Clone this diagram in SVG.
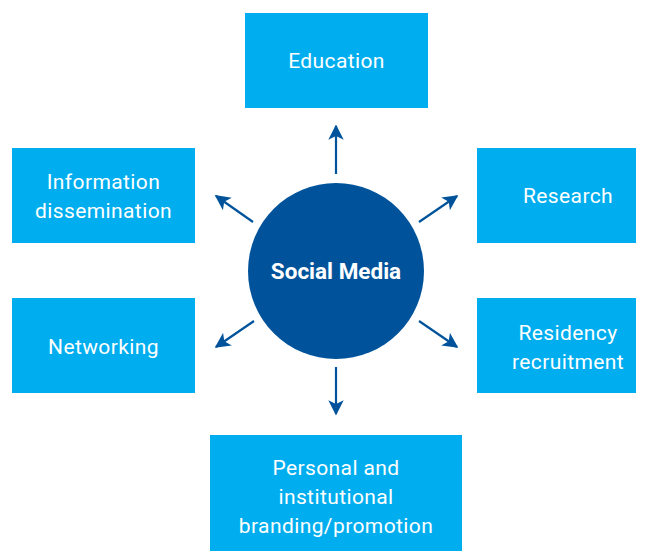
<svg xmlns="http://www.w3.org/2000/svg" width="648" height="552" viewBox="0 0 648 552">
  <style>
    .box { fill: #00AEEF; }
    .lbl { font-family: Roboto, "Liberation Sans", sans-serif; font-size: 21px; fill: #FFFFFF; text-anchor: middle; letter-spacing: 0.4px; }
    .hub { fill: #00539B; }
    .hubtxt { font-family: Roboto, "Liberation Sans", sans-serif; font-size: 22.5px; font-weight: bold; fill: #FFFFFF; text-anchor: middle; }
    .arrow { stroke: #00539B; stroke-width: 2.2; fill: none; marker-end: url(#head); }
  </style>
  <defs>
    <marker id="head" viewBox="0 0 10 10" refX="9" refY="5" markerWidth="7" markerHeight="7" orient="auto" markerUnits="strokeWidth">
      <path d="M0,0 L10,5 L0,10 L2.5,5 Z" fill="#00539B"/>
    </marker>
  </defs>
  <rect width="648" height="552" fill="#FFFFFF"/>

  <g id="connectors">
    <line class="arrow" x1="336" y1="174" x2="336" y2="126"/>
    <line class="arrow" x1="336" y1="367" x2="336" y2="414"/>
    <line class="arrow" x1="253" y1="222" x2="216" y2="196"/>
    <line class="arrow" x1="419" y1="222" x2="457" y2="196"/>
    <line class="arrow" x1="254" y1="321" x2="216" y2="347"/>
    <line class="arrow" x1="419" y1="321" x2="457" y2="347"/>
  </g>

  <g id="social-media">
    <circle class="hub" cx="336" cy="271" r="88"/>
    <text class="hubtxt" x="336" y="279">Social Media</text>
  </g>

  <g id="education">
    <rect class="box" x="245" y="13" width="183" height="95"/>
    <text class="lbl" x="336.5" y="68">Education</text>
  </g>

  <g id="information-dissemination">
    <rect class="box" x="12" y="148" width="183" height="95"/>
    <text class="lbl" x="103.5" y="189">Information</text>
    <text class="lbl" x="103.5" y="218">dissemination</text>
  </g>

  <g id="research">
    <rect class="box" x="477" y="148" width="159" height="95"/>
    <text class="lbl" x="568" y="203">Research</text>
  </g>

  <g id="networking">
    <rect class="box" x="12" y="298" width="183" height="95"/>
    <text class="lbl" x="103.5" y="354">Networking</text>
  </g>

  <g id="residency-recruitment">
    <rect class="box" x="477" y="298" width="159" height="95"/>
    <text class="lbl" x="568" y="340">Residency</text>
    <text class="lbl" x="568" y="369">recruitment</text>
  </g>

  <g id="branding-promotion">
    <rect class="box" x="210" y="435" width="252" height="116"/>
    <text class="lbl" x="336" y="475">Personal and</text>
    <text class="lbl" x="336" y="504">institutional</text>
    <text class="lbl" x="336" y="533">branding/promotion</text>
  </g>
</svg>
